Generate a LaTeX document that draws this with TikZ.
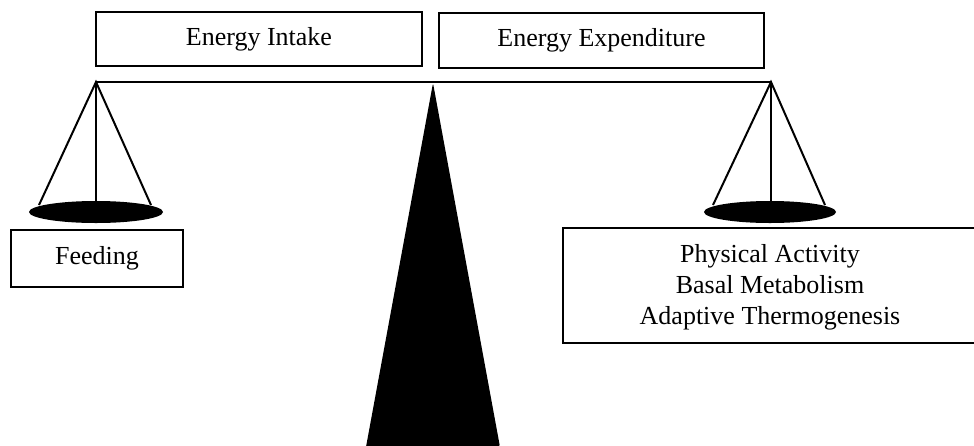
\documentclass[tikz,border=0pt]{standalone}
\usepackage{fontspec}
\setmainfont{Liberation Serif}
\usetikzlibrary{shapes.geometric}
\begin{document}
\begin{tikzpicture}[x=1pt,y=-1pt,
  labelbox/.style={draw=black,line width=1.6pt,inner sep=0pt,font=\fontsize{26}{31}\selectfont,align=center},
  plaintext/.style={inner sep=0pt,font=\fontsize{26}{31}\selectfont,align=center},
  cord/.style={line width=2pt},
  pan/.style={ellipse,fill=black,draw=none,inner sep=0pt}]
\useasboundingbox (0,0) rectangle (974,445);
\clip (0,0) rectangle (974,445);
% boxes
\node[labelbox,minimum width=326pt,minimum height=54pt] (intake) at (259,39) {Energy Intake};
\node[labelbox,minimum width=325pt,minimum height=55pt] (expend) at (601.5,40.5) {Energy Expenditure};
\node[labelbox,minimum width=172pt,minimum height=57pt] (feed) at (97,258.5) {Feeding};
\draw[line width=1.6pt] (563,228) rectangle (990,343);
\node[plaintext] (out) at (770,287) {Physical Activity\\Basal Metabolism\\Adaptive Thermogenesis};
% fulcrum
\coordinate (ftop) at (433,83);
\coordinate (fbl) at (366,447);
\coordinate (fbr) at (500,447);
\fill[black,rounded corners=2.5pt] (fbl) -- (ftop) -- (fbr) [sharp corners] -- cycle;
% beam
\coordinate (lapex) at (96,82);
\coordinate (rapex) at (771,82);
\draw[cord] (lapex) -- (rapex);
% left pan
\node[pan,minimum width=134pt,minimum height=22pt] (lpan) at (96,212) {};
\coordinate (l1) at (39,205);
\coordinate (l2) at (96,205);
\coordinate (l3) at (151,205);
\draw[cord] (l1) -- (lapex) -- (l3);
\draw[cord] (lapex) -- (l2);
% right pan
\node[pan,minimum width=132pt,minimum height=22pt] (rpan) at (770,212) {};
\coordinate (r1) at (713,205);
\coordinate (r2) at (771,205);
\coordinate (r3) at (825,205);
\draw[cord] (r1) -- (rapex) -- (r3);
\draw[cord] (rapex) -- (r2);
\end{tikzpicture}
\end{document}
